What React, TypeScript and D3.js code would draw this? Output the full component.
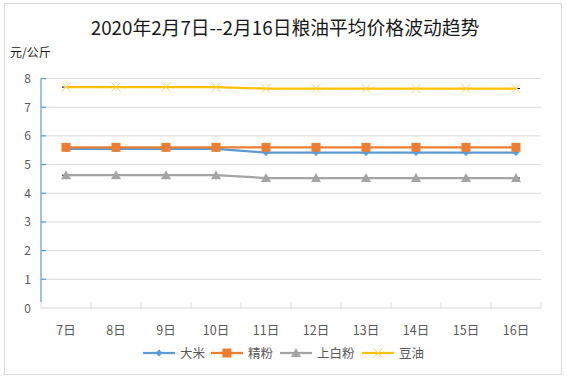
import React from "react";
import * as d3 from "d3";

const categories = ["7日", "8日", "9日", "10日", "11日", "12日", "13日", "14日", "15日", "16日"];
const rice = [5.55, 5.55, 5.55, 5.55, 5.42, 5.42, 5.42, 5.42, 5.42, 5.42];
const flour = [5.6, 5.6, 5.6, 5.6, 5.6, 5.6, 5.6, 5.6, 5.6, 5.6];
const whiteFlour = [4.63, 4.63, 4.63, 4.63, 4.53, 4.53, 4.53, 4.53, 4.53, 4.53];
const soyOil = [7.7, 7.7, 7.7, 7.7, 7.65, 7.65, 7.65, 7.65, 7.65, 7.65];
const yTicks = [0, 1, 2, 3, 4, 5, 6, 7, 8];
const seriesNames = ["大米", "精粉", "上白粉", "豆油"];
const title = "2020年2月7日--2月16日粮油平均价格波动趋势";
const unitLabel = "元/公斤";

const colors = ["#5B9BD5", "#ED7D31", "#A5A5A5", "#FFC000"];
const FONT = "'Noto Sans CJK SC', 'Noto Sans', sans-serif";

function Marker({ kind, x, y, color }: { kind: number; x: number; y: number; color: string }) {
  if (kind === 0) {
    const s = 3.5;
    return <path d={`M${x},${y - s}L${x + s},${y}L${x},${y + s}L${x - s},${y}Z`} fill={color} />;
  }
  if (kind === 1) {
    return <rect x={x - 4.5} y={y - 4.5} width={9} height={9} fill={color} />;
  }
  if (kind === 2) {
    const s = 5;
    return <path d={`M${x},${y - s}L${x + s},${y + s * 0.8}L${x - s},${y + s * 0.8}Z`} fill={color} />;
  }
  const s = 4.5;
  return (
    <path
      d={`M${x - s},${y - s}L${x + s},${y + s}M${x - s},${y + s}L${x + s},${y - s}`}
      stroke="#FFD54F"
      strokeWidth={1}
      fill="none"
    />
  );
}

export default function App() {
  const W = 567;
  const H = 383;
  const left = 41;
  const right = 541;
  const top = 78.5;
  const bottom = 308;

  const x = d3.scaleBand<string>().domain(categories).range([left, right]);
  const y = d3.scaleLinear().domain([0, 8]).range([bottom, top]);
  const cx = (c: string) => (x(c) ?? 0) + x.bandwidth() / 2;

  const allSeries = [rice, flour, whiteFlour, soyOil];
  const line = d3
    .line<number>()
    .x((_, i) => cx(categories[i]))
    .y((d) => y(d));

  const legendItems = [
    { lx: 143, tx: 180 },
    { lx: 211, tx: 248 },
    { lx: 280, tx: 317 },
    { lx: 362, tx: 399 },
  ];
  const legendY = 353;

  return (
    <svg width={W} height={H} style={{ position: "absolute", left: 0, top: 0 }}>
      <rect x={0} y={0} width={W} height={H} fill="#fff" />
      <rect x={4.5} y={3.5} width={557} height={371} fill="#fff" stroke="#d9d9d9" strokeWidth={1} />
      <text x={285} y={35} textAnchor="middle" fontFamily={FONT} fontSize={18.8} fill="#1a1a1a">
        {title}
      </text>
      <text x={10} y={57} fontFamily={FONT} fontSize={12} fill="#1a1a1a">
        {unitLabel}
      </text>
      {yTicks.map((t) =>
        t === 0 ? null : (
          <line key={"g" + t} x1={left} x2={right} y1={y(t)} y2={y(t)} stroke="#d9d9d9" strokeWidth={1} />
        )
      )}
      <line x1={left} x2={right} y1={bottom} y2={bottom} stroke="#d9d9d9" strokeWidth={1} />
      {categories.map((c, i) => (
        <line key={"xt" + i} x1={x(c) ?? 0} x2={x(c) ?? 0} y1={bottom} y2={bottom - 6} stroke="#d9d9d9" />
      ))}
      <line x1={right} x2={right} y1={bottom} y2={bottom - 6} stroke="#d9d9d9" />
      <line x1={left} x2={left} y1={top} y2={bottom - 6} stroke="#5B9BD5" strokeWidth={1.2} />
      {yTicks.map((t) =>
        t === 0 ? null : (
          <line key={"yt" + t} x1={left} x2={left + 5} y1={y(t)} y2={y(t)} stroke="#5B9BD5" strokeWidth={1.2} />
        )
      )}
      {yTicks.map((t) => (
        <text key={"yl" + t} x={31} y={y(t) + 4.5} textAnchor="end" fontFamily={FONT} fontSize={12} fill="#595959">
          {t}
        </text>
      ))}
      {categories.map((c) => (
        <text key={"xl" + c} x={cx(c)} y={335} textAnchor="middle" fontFamily={FONT} fontSize={12.5} fill="#595959">
          {c}
        </text>
      ))}
      {allSeries.map((s, k) => (
        <path key={"l" + k} d={line(s) ?? ""} fill="none" stroke={colors[k]} strokeWidth={2.25} strokeLinejoin="round" />
      ))}
      {[2, 3].map((k) => (
        <g key={"bk" + k}>
          <line
            x1={cx(categories[0]) - 4}
            x2={cx(categories[0]) - 1.5}
            y1={y(allSeries[k][0])}
            y2={y(allSeries[k][0])}
            stroke="#000"
            strokeWidth={1}
          />
          <line
            x1={cx(categories[9]) + 1.5}
            x2={cx(categories[9]) + 4}
            y1={y(allSeries[k][9])}
            y2={y(allSeries[k][9])}
            stroke="#000"
            strokeWidth={1}
          />
        </g>
      ))}
      {allSeries.map((s, k) => (
        <g key={"m" + k}>
          {s.map((v, i) => (
            <Marker key={i} kind={k} x={cx(categories[i])} y={y(v)} color={colors[k]} />
          ))}
        </g>
      ))}
      {seriesNames.map((n, k) => (
        <g key={"lg" + k}>
          <line
            x1={legendItems[k].lx}
            x2={legendItems[k].lx + 32}
            y1={legendY}
            y2={legendY}
            stroke={colors[k]}
            strokeWidth={2.25}
          />
          <Marker kind={k} x={legendItems[k].lx + 16} y={legendY} color={colors[k]} />
          <text x={legendItems[k].tx} y={legendY + 4.5} fontFamily={FONT} fontSize={12.5} fill="#595959">
            {n}
          </text>
        </g>
      ))}
    </svg>
  );
}
